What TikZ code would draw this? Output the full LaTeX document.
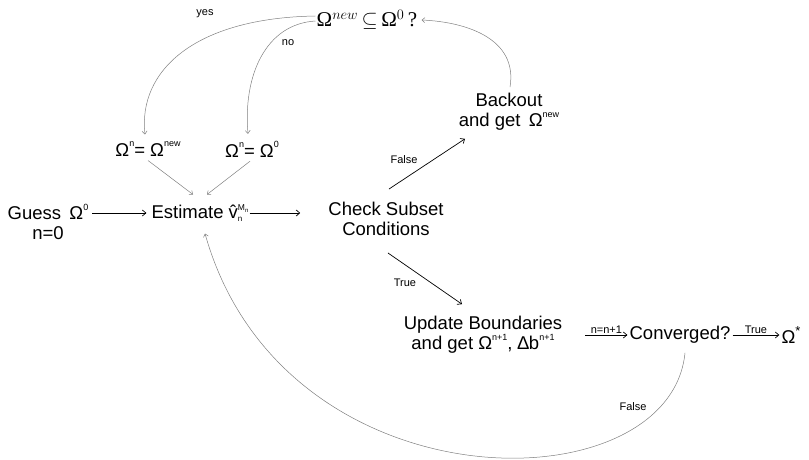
\documentclass[tikz,border=0pt]{standalone}
\usepackage{fontspec}
\setmainfont{Liberation Sans}
\newfontfamily\tnr{Liberation Serif}
\usetikzlibrary{arrows.meta}
\newcommand\up[1]{\raisebox{1.0ex}{\fontsize{9}{9}\selectfont #1}}
\newcommand\vsub{\rlap{\raisebox{-0.25ex}{\fontsize{8}{8}\selectfont n}}\raisebox{0.85ex}{\fontsize{8.5}{9}\selectfont M\raisebox{-0.35ex}{\fontsize{6}{6}\selectfont n}}}
\begin{document}
\begin{tikzpicture}[x=1pt,y=-1pt,
  lbl/.style={font=\fontsize{18.5}{20}\selectfont, align=center, inner sep=2pt},
  small/.style={font=\fontsize{11}{12}\selectfont, inner sep=1pt},
  arr/.style={-{Straight Barb[length=3.5pt,width=6pt]}, line width=0.7pt},
  garr/.style={-{Straight Barb[length=3pt,width=5pt]}, draw=gray, line width=0.5pt}]
\useasboundingbox (0,0) rectangle (809,460);

% nodes
\node[lbl, font=\fontsize{21}{22}\selectfont] (top) at (367,20) {{\tnr Ω}$^{new}$\,$\subseteq$\,{\tnr Ω}$^{0}$\,{\tnr ?}};
\node[lbl] (A) at (148,149) {Ω\up{n}= Ω\up{new}};
\node[lbl] (B) at (252,149) {Ω\up{n}= Ω\up{0}};
\node[lbl] (guess) at (48,222) {Guess \,Ω\up{0}\\n=0};
\node[lbl, inner sep=1pt] (est) at (200,213) {Estimate \^{v}\vsub};
\node[lbl] (check) at (386,219) {Check Subset\\Conditions};
\node[lbl] (back) at (509,112) {Backout\\and get \,Ω\up{new}};
\node[lbl] (upd) at (483,335) {Update Boundaries\\and get Ω\up{n+1}, ∆b\up{n+1}};
\node[lbl] (conv) at (680,335) {Converged?};
\node[lbl] (star) at (791,335) {Ω\raisebox{0.9ex}{\fontsize{13}{13}\selectfont *}};

% labels
\node[small] (lyes) at (205,14) {yes};
\node[small] (lno) at (288,43) {no};
\node[small] (lfalse1) at (404,160) {False};
\node[small] (ltrue1) at (405,283) {True};
\node[small] (lfalse2) at (633,407) {False};

\coordinate (chkin) at ([xshift=-26pt]check.west);
\coordinate (updout) at ([xshift=21pt]upd.east);

% main arrows
\draw[arr, shorten <=2pt, shorten >=4pt] (guess.east |- est.west) -- (est.west);
\draw[arr] (est.east) -- (chkin |- est.east);
\draw[arr] ([shift={(3,-11)}]check.north) -- ([shift={(-44,6)}]back.south);
\draw[arr] ([shift={(2,15)}]check.south) -- ([shift={(-21,-10)}]upd.north);
\draw[arr] (updout |- conv.west) -- node[small, above] (lnn) {n=n+1} (conv.west);
\draw[arr] (conv.east) -- node[small, above] (ltrue2) {True} (star.west |- conv.east);

% gray connectors
\draw[garr] ([shift={(0,2)}]A.south) -- ([shift={(-7,-9)}]est.north);
\draw[garr] ([shift={(-2,2)}]B.south) -- ([shift={(7,-9)}]est.north);
\draw[garr] ([shift={(1,-4)}]top.west) .. controls +(-122,2) and +(-7,-63) .. ([shift={(-3,-5)}]A.north);
\draw[garr] ([shift={(1,1)}]top.west) .. controls +(-50,3) and +(-5,-58) .. ([shift={(-4,-5)}]B.north);
\draw[garr] ([shift={(1,-4)}]back.north) .. controls +(8,-48) and +(46,2) .. ([shift={(2,0)}]top.east);
\draw[garr] ([shift={(5,7)}]conv.south) .. controls +(-15,155) and +(78,277) .. ([shift={(5,11)}]est.south);
\end{tikzpicture}
\end{document}
